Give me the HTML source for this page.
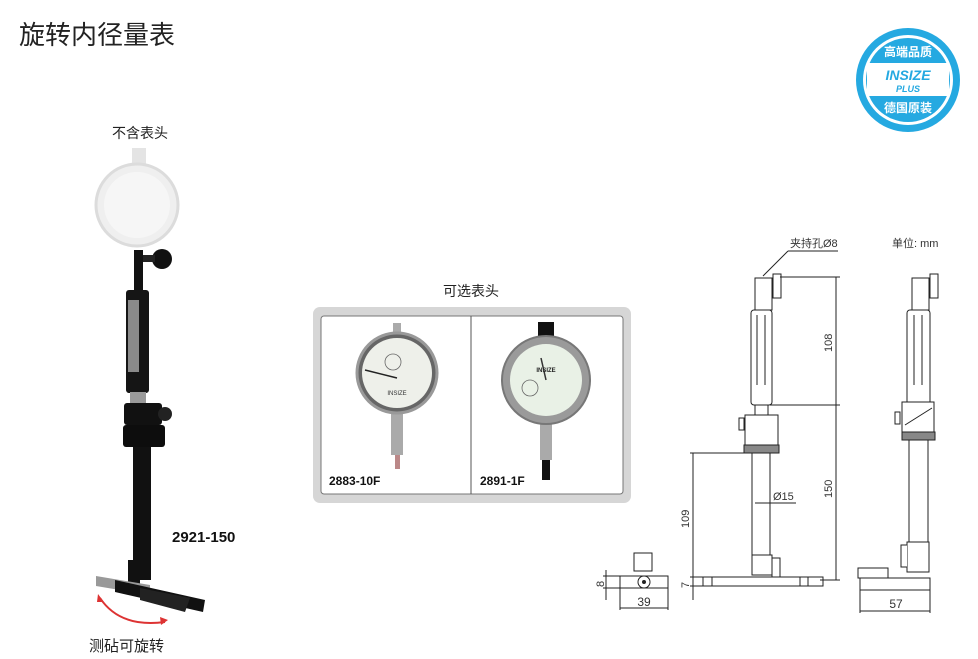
<!DOCTYPE html>
<html><head><meta charset="utf-8"><style>
html,body{margin:0;padding:0;background:#fff;}
svg{display:block;font-family:"Liberation Sans","Noto Sans CJK SC",sans-serif;}
</style></head><body>
<svg width="978" height="659" viewBox="0 0 978 659" xmlns="http://www.w3.org/2000/svg">
<text x="19" y="44" font-size="26" fill="#222">旋转内径量表</text>

<!-- logo -->
<circle cx="908" cy="80" r="52" fill="#25a9e1"/>
<circle cx="908" cy="80" r="45" fill="#fff"/>
<circle cx="908" cy="80" r="42" fill="#25a9e1"/>
<rect x="867" y="63" width="82" height="33" fill="#fff"/>
<text x="908" y="80" font-size="14" font-weight="bold" font-style="italic" fill="#25a9e1" text-anchor="middle">INSIZE</text>
<text x="908" y="92" font-size="9" font-weight="bold" font-style="italic" fill="#25a9e1" text-anchor="middle">PLUS</text>
<text x="908" y="56" font-size="12" font-weight="bold" fill="#fff" text-anchor="middle">高端品质</text>
<text x="908" y="112" font-size="12" font-weight="bold" fill="#fff" text-anchor="middle">德国原装</text>

<!-- left product -->
<text x="140" y="138" font-size="14" fill="#222" text-anchor="middle">不含表头</text>
<rect x="132" y="148" width="14" height="18" fill="#e4e4e4"/>
<circle cx="137" cy="205" r="41" fill="#efefef" stroke="#dcdcdc" stroke-width="3"/>
<circle cx="137" cy="205" r="33" fill="#f6f6f6"/>
<rect x="134" y="250" width="9" height="45" fill="#111"/>
<circle cx="162" cy="259" r="10" fill="#111"/>
<rect x="143" y="255" width="12" height="7" fill="#222"/>
<rect x="126" y="290" width="23" height="103" rx="3" fill="#151515"/>
<rect x="128" y="300" width="11" height="72" fill="#8a8a8a"/>
<rect x="130" y="392" width="16" height="12" fill="#9a9a9a"/>
<rect x="124" y="403" width="38" height="22" rx="3" fill="#111"/>
<circle cx="165" cy="414" r="7" fill="#222"/>
<rect x="123" y="425" width="42" height="22" rx="3" fill="#0d0d0d"/>
<rect x="133" y="447" width="18" height="133" fill="#111"/>
<rect x="128" y="560" width="12" height="30" fill="#111"/>
<polygon points="96,576 150,585 150,595 96,586" fill="#999"/>
<polygon points="115,580 205,600 203,612 115,592" fill="#111"/>
<polygon points="140,588 190,598 185,612 140,600" fill="#222"/>
<path d="M100 598 Q120 628 165 622" stroke="#d33" stroke-width="2" fill="none"/>
<polygon points="98,594 104,602 97,602" fill="#d33"/>
<polygon points="168,620 160,617 161,625" fill="#d33"/>
<text x="172" y="542" font-size="15" font-weight="bold" fill="#111">2921-150</text>
<text x="89" y="651" font-size="15" fill="#222">测砧可旋转</text>

<!-- optional gauges box -->
<text x="471" y="296" font-size="14" fill="#222" text-anchor="middle">可选表头</text>
<rect x="313" y="307" width="318" height="196" rx="7" fill="#d6d6d6"/>
<rect x="321" y="316" width="302" height="178" rx="3" fill="#fff" stroke="#777" stroke-width="1"/>
<line x1="471" y1="316" x2="471" y2="494" stroke="#555" stroke-width="1"/>
<rect x="393" y="323" width="8" height="12" fill="#aaa"/>
<rect x="391" y="410" width="12" height="45" fill="#aaa"/>
<rect x="395" y="455" width="5" height="14" fill="#b88"/>
<circle cx="397" cy="373" r="40" fill="#666" stroke="#999" stroke-width="3"/>
<circle cx="397" cy="373" r="35" fill="#eef0ea"/>
<line x1="365" y1="370" x2="397" y2="378" stroke="#222" stroke-width="1.5"/>
<circle cx="393" cy="362" r="8" fill="none" stroke="#666" stroke-width="0.8"/>
<text x="397" y="395" font-size="6" fill="#333" text-anchor="middle">INSIZE</text>
<rect x="538" y="322" width="16" height="25" fill="#111"/>
<rect x="540" y="420" width="12" height="40" fill="#aaa"/>
<rect x="542" y="460" width="8" height="20" fill="#111"/>
<circle cx="546" cy="380" r="44" fill="#9a9a9a" stroke="#777" stroke-width="2"/>
<circle cx="546" cy="380" r="36" fill="#e9f1e6"/>
<line x1="546" y1="380" x2="541" y2="358" stroke="#333" stroke-width="1.5"/>
<circle cx="530" cy="388" r="8" fill="none" stroke="#666" stroke-width="0.8"/>
<text x="546" y="372" font-size="6" fill="#222" text-anchor="middle" font-weight="bold">INSIZE</text>
<text x="329" y="485" font-size="12" font-weight="bold" fill="#111">2883-10F</text>
<text x="480" y="485" font-size="12" font-weight="bold" fill="#111">2891-1F</text>

<!-- technical drawing -->
<g stroke="#222" stroke-width="1" fill="#fff">
<text x="790" y="247" font-size="11" fill="#333" stroke="none">夹持孔Ø8</text>
<line x1="788" y1="251" x2="838" y2="251"/>
<line x1="788" y1="251" x2="763" y2="276"/>
<text x="892" y="247" font-size="11" fill="#333" stroke="none">单位: mm</text>

<rect x="755" y="278" width="17" height="32"/>
<rect x="773" y="274" width="8" height="24"/>
<rect x="751" y="310" width="21" height="95" rx="3"/>
<line x1="757" y1="315" x2="757" y2="385"/><line x1="765" y1="315" x2="765" y2="385"/>
<rect x="755" y="405" width="13" height="11"/>
<rect x="745" y="415" width="33" height="30"/>
<rect x="739" y="418" width="5" height="12"/>
<rect x="744" y="445" width="35" height="8" fill="#888"/>
<rect x="752" y="453" width="18" height="103"/>
<rect x="752" y="555" width="20" height="20"/>
<path d="M772 558 h8 v20 l-5 5 h-3z"/>
<rect x="703" y="577" width="120" height="9"/>
<line x1="712" y1="577" x2="712" y2="586"/>
<line x1="800" y1="577" x2="800" y2="586"/>
<line x1="808" y1="577" x2="808" y2="586"/>

<line x1="780" y1="277" x2="840" y2="277"/>
<line x1="770" y1="405" x2="840" y2="405"/>
<line x1="820" y1="580" x2="840" y2="580"/>
<line x1="836" y1="277" x2="836" y2="580"/>
<text x="0" y="0" font-size="11" fill="#333" stroke="none" transform="translate(832,352) rotate(-90)">108</text>
<text x="0" y="0" font-size="11" fill="#333" stroke="none" transform="translate(832,498) rotate(-90)">150</text>

<line x1="690" y1="453" x2="744" y2="453"/>
<line x1="693" y1="453" x2="693" y2="600"/>
<line x1="690" y1="577" x2="703" y2="577"/>
<line x1="690" y1="586" x2="703" y2="586"/>
<text x="0" y="0" font-size="11" fill="#333" stroke="none" transform="translate(689,528) rotate(-90)">109</text>
<text x="0" y="0" font-size="11" fill="#333" stroke="none" transform="translate(689,588) rotate(-90)">7</text>

<line x1="755" y1="503" x2="796" y2="503"/>
<text x="773" y="500" font-size="11" fill="#333" stroke="none">Ø15</text>

<rect x="634" y="553" width="18" height="18"/>
<rect x="620" y="576" width="48" height="12"/>
<circle cx="644" cy="582" r="6"/>
<circle cx="644" cy="582" r="1.5" fill="#222"/>
<line x1="603" y1="576" x2="620" y2="576"/>
<line x1="603" y1="588" x2="620" y2="588"/>
<line x1="606" y1="570" x2="606" y2="600"/>
<text x="0" y="0" font-size="11" fill="#333" stroke="none" transform="translate(604,587) rotate(-90)">8</text>
<line x1="620" y1="588" x2="620" y2="610"/>
<line x1="668" y1="588" x2="668" y2="610"/>
<line x1="620" y1="608" x2="668" y2="608"/>
<text x="644" y="606" font-size="12" fill="#333" stroke="none" text-anchor="middle">39</text>

<rect x="912" y="278" width="17" height="32"/>
<rect x="930" y="274" width="8" height="24"/>
<rect x="907" y="310" width="23" height="95" rx="3"/>
<line x1="914" y1="315" x2="914" y2="385"/><line x1="922" y1="315" x2="922" y2="385"/>
<rect x="902" y="402" width="32" height="30"/>
<line x1="905" y1="425" x2="932" y2="408"/>
<rect x="895" y="412" width="5" height="12"/>
<rect x="902" y="432" width="33" height="8" fill="#888"/>
<rect x="909" y="440" width="19" height="102"/>
<rect x="907" y="542" width="22" height="30"/>
<path d="M907 545 h-6 v22 h6"/>
<rect x="858" y="568" width="30" height="10"/>
<rect x="860" y="578" width="70" height="12"/>
<line x1="860" y1="590" x2="860" y2="613"/>
<line x1="930" y1="590" x2="930" y2="613"/>
<line x1="860" y1="611" x2="930" y2="611"/>
<text x="896" y="608" font-size="12" fill="#333" stroke="none" text-anchor="middle">57</text>
</g>
</svg>
</body></html>
